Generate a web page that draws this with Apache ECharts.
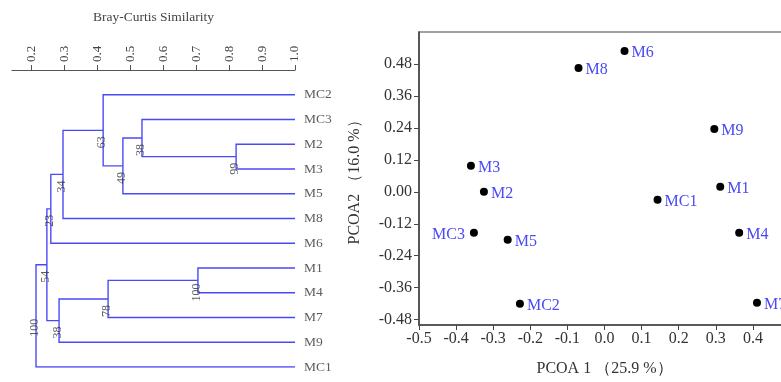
<!DOCTYPE html>
<html>
<head>
<meta charset="utf-8">
<script src="https://cdn.jsdelivr.net/npm/echarts@6/dist/echarts.min.js"></script>
<style>
  html, body { margin: 0; padding: 0; background: #fff; }
  #chartDiv { width: 781px; height: 382px; }
</style>
</head>
<body>
<div id="chartDiv"></div>
<script>
// 树状图叶子（从上到下）
let leafNames = ["MC2", "MC3", "M2", "M3", "M5", "M8", "M6", "M1", "M4", "M7", "M9", "MC1"];
// 合并节点：编号从 leafNames.length 开始
let mergeLeft = [2, 1, 13, 0, 15, 16, 7, 18, 19, 17, 21];
let mergeRight = [3, 12, 4, 14, 5, 6, 8, 9, 10, 20, 11];
let mergeHeight = [0.821, 0.535, 0.477, 0.417, 0.295, 0.258, 0.705, 0.432, 0.283, 0.246, 0.213];
let mergeSupport = [99, 38, 49, 63, 34, 23, 100, 78, 38, 54, 100];
let simTicks = [0.2, 0.3, 0.4, 0.5, 0.6, 0.7, 0.8, 0.9, 1.0];

// PCoA 散点
let pcoaNames = ["M6", "M8", "M9", "M3", "M2", "M1", "MC1", "MC3", "M5", "M4", "MC2", "M7"];
let pcoaX = [0.054, -0.07, 0.296, -0.36, -0.325, 0.312, 0.143, -0.352, -0.261, 0.363, -0.228, 0.411];
let pcoaY = [0.529, 0.465, 0.236, 0.098, 0.0, 0.019, -0.03, -0.154, -0.18, -0.154, -0.42, -0.416];
let pcoaYTicks = [-0.48, -0.36, -0.24, -0.12, 0, 0.12, 0.24, 0.36, 0.48];

let chart = echarts.init(document.getElementById("chartDiv"));
let serif = "Liberation Serif";
let blue = "#4a4af5";

//计算节点坐标
let nodeX = [];
let nodeY = [];
leafNames.forEach(function (n, i) {
    nodeX.push(1.0);
    nodeY.push(i);
});
let branchLines = [];
let supportPoints = [];
for (let k = 0; k < mergeHeight.length; k++) {
    let a = mergeLeft[k], b = mergeRight[k], h = mergeHeight[k];
    branchLines.push({
        coords: [[nodeX[a], nodeY[a]], [h, nodeY[a]], [h, nodeY[b]], [nodeX[b], nodeY[b]]]
    });
    let y = (nodeY[a] + nodeY[b]) / 2;
    nodeX.push(h);
    nodeY.push(y);
    supportPoints.push({ value: [h, y], name: String(mergeSupport[k]) });
}

chart.setOption({
    animation: false,
    grid: [
        { left: 12, width: 283, top: 70, bottom: 15, outerBoundsMode: "none" },
        {
            left: 419, top: 32, right: -9, bottom: 57,
            show: true, borderColor: "#444", borderWidth: 1.2,
            outerBoundsMode: "none"
        }
    ],
    xAxis: [
        {
            gridIndex: 0,
            type: "value",
            position: "top",
            min: 0.14,
            max: 1.0,
            name: "Bray-Curtis Similarity",
            nameLocation: "middle",
            nameGap: 46,
            nameTextStyle: { fontFamily: serif, fontSize: 13.5, color: "#444" },
            axisLine: { onZero: false, lineStyle: { color: "#555", width: 1.2 } },
            axisTick: { customValues: simTicks, length: 5, lineStyle: { color: "#555" } },
            axisLabel: {
                customValues: simTicks,
                rotate: -90,
                margin: 8,
                fontFamily: serif,
                fontSize: 13,
                color: "#444",
                formatter: function (v) { return v.toFixed(1); }
            },
            splitLine: { show: false }
        },
        {
            gridIndex: 1,
            type: "value",
            min: -0.5,
            max: 0.5,
            interval: 0.1,
            name: "PCOA 1 （25.9 %）",
            nameLocation: "middle",
            nameGap: 36,
            nameTextStyle: { fontFamily: serif, fontSize: 16, color: "#333" },
            axisLine: { onZero: false, lineStyle: { color: "#444", width: 1.5 } },
            axisTick: { length: 5, lineStyle: { color: "#444" } },
            axisLabel: {
                fontFamily: serif,
                fontSize: 16,
                color: "#333",
                margin: 6,
                showMaxLabel: false,
                formatter: function (v) { return v.toFixed(1); }
            },
            splitLine: { show: false }
        }
    ],
    yAxis: [
        {
            gridIndex: 0,
            type: "value",
            min: -1,
            max: 11,
            inverse: true,
            show: false
        },
        {
            gridIndex: 1,
            type: "value",
            min: -0.5,
            max: 0.6,
            name: "PCOA2 （16.0 %）",
            nameLocation: "middle",
            nameGap: 56,
            nameTextStyle: { fontFamily: serif, fontSize: 16, color: "#333" },
            axisLine: { show: true, onZero: false, lineStyle: { color: "#444", width: 1.5 } },
            axisTick: { show: true, customValues: pcoaYTicks, length: 5, lineStyle: { color: "#444" } },
            axisLabel: {
                customValues: pcoaYTicks,
                fontFamily: serif,
                fontSize: 16,
                color: "#333",
                margin: 7,
                formatter: function (v) { return v.toFixed(2); }
            },
            splitLine: { show: false }
        }
    ],
    series: [
        {
            type: "lines",
            coordinateSystem: "cartesian2d",
            xAxisIndex: 0,
            yAxisIndex: 0,
            polyline: true,
            lineStyle: { color: blue, width: 1.4, opacity: 1 },
            data: branchLines
        },
        {
            //叶子标签
            type: "scatter",
            xAxisIndex: 0,
            yAxisIndex: 0,
            symbolSize: 0,
            data: leafNames.map(function (n, i) { return { value: [1.0, i], name: n }; }),
            label: {
                show: true,
                position: "right",
                distance: 9,
                formatter: "{b}",
                fontFamily: serif,
                fontSize: 13.5,
                color: "#333"
            }
        },
        {
            //bootstrap 支持度（旋转后 offset 在文字自身坐标系里）
            type: "scatter",
            xAxisIndex: 0,
            yAxisIndex: 0,
            symbolSize: 0,
            data: supportPoints,
            label: {
                show: true,
                position: "inside",
                rotate: 90,
                offset: [-12, -1],
                formatter: "{b}",
                fontFamily: serif,
                fontSize: 12,
                color: "#333"
            }
        },
        {
            type: "scatter",
            xAxisIndex: 1,
            yAxisIndex: 1,
            symbol: "circle",
            symbolSize: 8,
            itemStyle: { color: "#000", opacity: 1 },
            data: pcoaNames.map(function (n, i) {
                let item = { value: [pcoaX[i], pcoaY[i]], name: n };
                if (n === "MC3") {
                    item.label = { position: "left", distance: 5 };
                }
                return item;
            }),
            label: {
                show: true,
                position: "right",
                distance: 3,
                offset: [0, 2],
                formatter: "{b}",
                fontFamily: serif,
                fontSize: 16,
                color: blue
            }
        }
    ]
});

window.onresize = function () {
    chart.resize();
};
</script>
</body>
</html>
